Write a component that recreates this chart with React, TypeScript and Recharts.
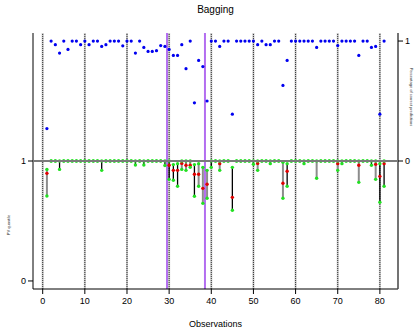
import React from 'react';
import { ComposedChart, Scatter, XAxis, YAxis, ReferenceLine, Label } from 'recharts';

const observations = [
  1, 2, 3, 4, 5, 6, 7, 8, 9, 10,
  11, 12, 13, 14, 15, 16, 17, 18, 19, 20,
  21, 22, 23, 24, 25, 26, 27, 28, 29, 30,
  31, 32, 33, 34, 35, 36, 37, 38, 39, 40,
  41, 42, 43, 44, 45, 46, 47, 48, 49, 50,
  51, 52, 53, 54, 55, 56, 57, 58, 59, 60,
  61, 62, 63, 64, 65, 66, 67, 68, 69, 70,
  71, 72, 73, 74, 75, 76, 77, 78, 79, 80,
  81,
];

// share of correct predictions (right axis)
const pctCorrect = [
  0.27, 1, 0.97, 0.9, 1, 0.93, 1, 1, 0.97, 1,
  0.97, 1, 1, 0.955, 0.97, 1, 1, 1, 0.96, 1,
  1, 0.9, 1, 0.947, 0.913, 0.913, 0.92, 0.962, 0.955, 0.93,
  0.88, 0.88, 0.97, 0.77, 1, 0.485, 0.838, 0.787, 0.5, 1,
  1, 0.955, 1, 1, 0.39, 1, 1, 1, 1, 1,
  0.97, 1, 0.97, 0.97, 1, 1, 0.63, 0.838, 1, 1,
  1, 1, 1, 1, 0.947, 1, 1, 1, 1, 0.962,
  1, 1, 1, 1, 0.88, 1, 1, 0.947, 0.955, 0.39,
  1,
];

// PV quantile intervals (left axis)
const pvUpper = [
  0.93, 1, 1, 1, 1, 1, 1, 1, 1, 1,
  1, 1, 1, 1, 1, 1, 1, 1, 1, 1,
  1, 1, 1, 1, 1, 1, 1, 1, 1, 1,
  0.97, 0.978, 1, 1, 1, 0.97, 0.978, 0.947, 0.922, 1,
  1, 1, 1, 1, 0.947, 1, 1, 1, 1, 1,
  1, 1, 1, 1, 1, 1, 0.989, 0.978, 1, 1,
  1, 1, 1, 1, 1, 1, 1, 1, 1, 1,
  1, 1, 1, 1, 1, 1, 1, 1, 1, 0.978,
  1,
];

const pvMedian = [
  0.897, 1, 1, 1, 1, 1, 1, 1, 1, 1,
  1, 1, 1, 1, 1, 1, 1, 1, 1, 1,
  1, 1, 1, 1, 1, 1, 1, 1, 1, 0.964,
  0.922, 0.922, 0.98, 0.964, 0.964, 0.889, 0.889, 0.772, 0.806, 1,
  1, 0.978, 1, 1, 0.697, 1, 1, 1, 1, 1,
  0.98, 1, 1, 1, 1, 1, 0.814, 0.914, 1, 1,
  1, 1, 1, 1, 1, 1, 1, 1, 1, 0.978,
  1, 1, 1, 1, 0.964, 1, 1, 1, 0.972, 0.872,
  0.978,
];

const pvLower = [
  0.708, 1, 1, 0.93, 1, 1, 1, 1, 1, 1,
  1, 1, 1, 0.922, 1, 1, 1, 1, 1, 1,
  1, 0.967, 1, 0.967, 1, 1, 1, 1, 0.962, 0.847,
  0.839, 0.789, 0.93, 0.922, 0.947, 0.706, 0.789, 0.647, 0.689, 0.947,
  1, 0.922, 1, 1, 0.589, 1, 1, 1, 1, 0.972,
  0.922, 1, 1, 0.978, 1, 1, 0.689, 0.789, 1, 1,
  1, 0.978, 1, 1, 0.856, 1, 1, 1, 1, 0.922,
  0.978, 1, 1, 1, 0.822, 1, 1, 0.964, 0.847, 0.656,
  0.789,
];

// interval kind: 'a' drawn dark, 'b' drawn grey
const intervalKind = [
  'b', 'a', 'a', 'a', 'a', 'a', 'a', 'a', 'a', 'a',
  'a', 'a', 'a', 'a', 'a', 'a', 'a', 'a', 'a', 'a',
  'a', 'a', 'a', 'a', 'a', 'a', 'a', 'a', 'a', 'a',
  'a', 'a', 'b', 'b', 'b', 'a', 'b', 'b', 'b', 'a',
  'a', 'b', 'a', 'a', 'a', 'a', 'a', 'a', 'a', 'a',
  'b', 'a', 'a', 'a', 'a', 'a', 'b', 'a', 'a', 'a',
  'a', 'a', 'a', 'a', 'b', 'a', 'a', 'a', 'a', 'b',
  'a', 'a', 'a', 'a', 'b', 'a', 'a', 'a', 'b', 'a',
  'a',
];

const xTicks = [0, 10, 20, 30, 40, 50, 60, 70, 80];
const splitMarks = [29.5, 38.5];
const leftTicks = [0, 1];
const rightTicks = [0, 1];

const font = '"Liberation Sans", Arial, Helvetica, sans-serif';

const dot = (color: string, r: number) => (props: any) => {
  if (props.cx == null || props.cy == null) return <g />;
  return <circle cx={props.cx} cy={props.cy} r={r} fill={color} />;
};

export default function App() {
  const pctData = observations.map((o, i) => ({ obs: o, v: pctCorrect[i] }));
  const upperData = observations.map((o, i) => ({ obs: o, v: pvUpper[i] }));
  const medianData = observations
    .map((o, i) => ({ obs: o, v: pvMedian[i], up: pvUpper[i] }))
    .filter((d) => d.v < d.up);
  const lowerData = observations.map((o, i) => ({ obs: o, v: pvLower[i] }));
  const intervals = observations
    .map((o, i) => ({ obs: o, up: pvUpper[i], lo: pvLower[i], kind: intervalKind[i] }))
    .filter((d) => d.lo < d.up);

  const tickStyle = { fontSize: 9, fill: '#000', fontFamily: font };

  return (
    <div style={{ position: 'absolute', left: 0, top: 0, width: 417, height: 332, background: '#fff', fontFamily: font }}>
      <div style={{ position: 'absolute', left: 33, width: 365, top: 4, textAlign: 'center', fontSize: 10, lineHeight: '12px' }}>
        Bagging
      </div>
      <div
        style={{
          position: 'absolute', left: 8, top: 225, fontSize: 4, lineHeight: '5px', whiteSpace: 'nowrap',
          transform: 'translate(-50%, -50%) rotate(-90deg)', color: '#333',
        }}
      >
        PV quantile
      </div>
      <div
        style={{
          position: 'absolute', left: 411, top: 97, fontSize: 4, lineHeight: '5px', whiteSpace: 'nowrap',
          transform: 'translate(-50%, -50%) rotate(90deg)', color: '#333',
        }}
      >
        Percentage of correct predictions
      </div>
      <ComposedChart width={417} height={332} margin={{ top: 33, right: 0, bottom: 0, left: 0 }}>
        <XAxis
          type="number"
          dataKey="obs"
          domain={[-2.3, 84.3]}
          ticks={xTicks}
          allowDataOverflow
          height={43}
          tick={tickStyle}
          tickSize={5}
          tickMargin={4}
          axisLine={{ stroke: '#000' }}
          tickLine={{ stroke: '#000' }}
        >
          <Label value="Observations" position="insideBottom" offset={5} style={{ fontSize: 9, fill: '#000', fontFamily: font }} />
        </XAxis>
        <XAxis
          xAxisId="top"
          orientation="top"
          type="number"
          domain={[-2.3, 84.3]}
          ticks={[]}
          height={0}
          tick={false}
          tickLine={false}
          axisLine={{ stroke: '#000' }}
        />
        <YAxis
          yAxisId="left"
          type="number"
          domain={[-0.067, 2.067]}
          ticks={leftTicks}
          allowDataOverflow
          width={33}
          tick={tickStyle}
          tickSize={5}
          tickMargin={2}
          axisLine={{ stroke: '#000' }}
          tickLine={{ stroke: '#000' }}
        />
        <YAxis
          yAxisId="right"
          orientation="right"
          type="number"
          domain={[-1.067, 1.067]}
          ticks={rightTicks}
          allowDataOverflow
          width={19}
          tick={tickStyle}
          tickSize={5}
          tickMargin={2}
          axisLine={{ stroke: '#444', strokeWidth: 1.5 }}
          tickLine={{ stroke: '#000' }}
        />

        {xTicks.map((t) => (
          <ReferenceLine key={'w' + t} yAxisId="left" x={t} stroke="#c8c8c8" strokeWidth={2} />
        ))}
        {xTicks.map((t) => (
          <ReferenceLine key={'v' + t} yAxisId="left" x={t} stroke="#333" strokeWidth={1} strokeDasharray="1 1" />
        ))}
        {splitMarks.map((t) => (
          <ReferenceLine key={'s' + t} yAxisId="left" x={t} stroke="#b36ef0" strokeWidth={2} />
        ))}
        {intervals.map((d) => (
          <ReferenceLine
            key={'i' + d.obs}
            yAxisId="left"
            segment={[{ x: d.obs, y: d.up }, { x: d.obs, y: d.lo }]}
            stroke={d.kind === 'a' ? '#000' : '#8c8c8c'}
            strokeWidth={d.kind === 'a' ? 1.3 : 2}
          />
        ))}

        <Scatter yAxisId="left" data={medianData} dataKey="v" shape={dot('#e00000', 1.7)} isAnimationActive={false} />
        <Scatter yAxisId="left" data={upperData} dataKey="v" shape={dot('#22e022', 1.7)} isAnimationActive={false} />
        <Scatter yAxisId="left" data={lowerData} dataKey="v" shape={dot('#22e022', 1.7)} isAnimationActive={false} />
        <Scatter yAxisId="right" data={pctData} dataKey="v" shape={dot('#0000f0', 1.6)} isAnimationActive={false} />

        <ReferenceLine yAxisId="left" y={1} stroke="#7a7a7a" strokeWidth={2} zIndex={700} />
      </ComposedChart>
    </div>
  );
}
